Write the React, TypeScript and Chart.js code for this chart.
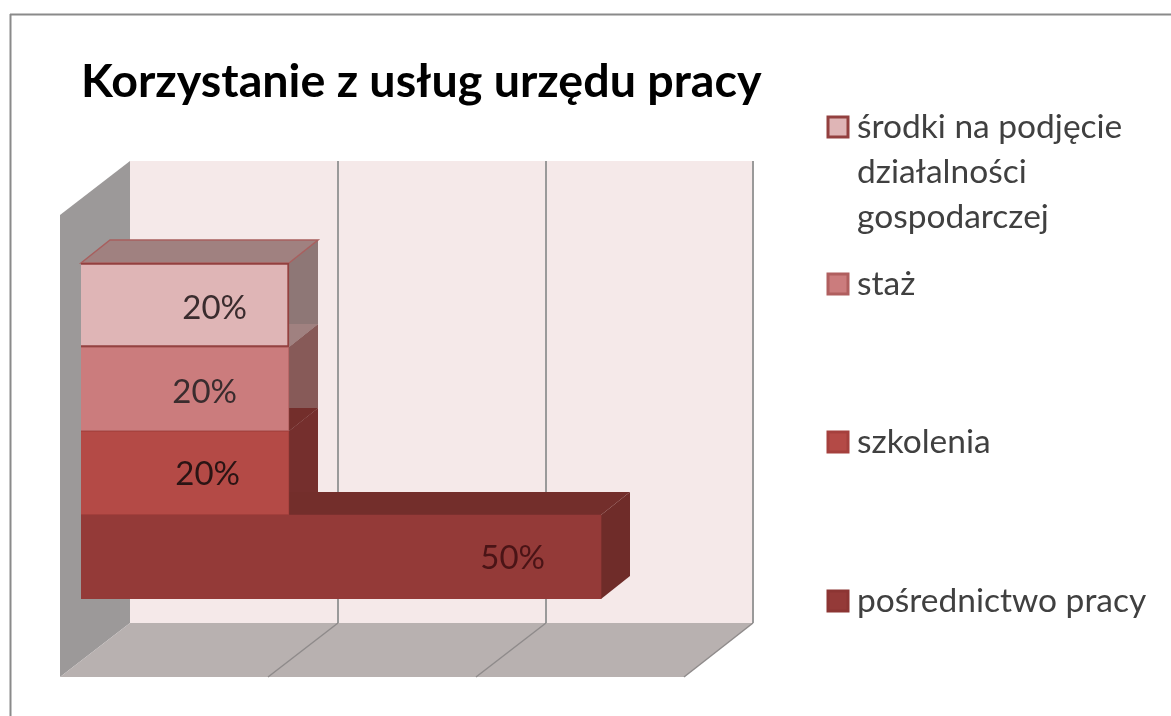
import React, { useEffect, useRef } from "react";
import { Chart, registerables } from "chart.js";

Chart.register(...registerables);

const titleText = "Korzystanie z usług urzędu pracy";
const categories: (string | string[])[] = [
  ["środki na podjęcie", "działalności", "gospodarczej"],
  "staż",
  "szkolenia",
  "pośrednictwo pracy",
];
const values = [20, 20, 20, 50];
const gridTicks = [0, 20, 40, 60];

const frontColors = ["#dfb5b6", "#cb7c7d", "#b44a46", "#943a38"];
const borderColors = ["#93403f", "#b05f5f", "#a5403d", "#8c3533"];
const sideColors = ["#8e7776", "#875a58", "#752f2d", "#6f2c29"];
const topColors = ["#a08180", "#a08180", "#732e2b", "#732e2b"];
const labelColors = ["#3a2c2e", "#3a2c2e", "#2a1414", "#4a1416"];

// Hand placement of the value labels, measured back from each bar's end / centre.
const labelRightInset = [42, 52, 49, 56];
const labelDown = [3, 3, 1, 1];
// Baselines and swatch tops of the legend blocks.
const legendTops = [116, 273, 431, 590];
const legendFirstBaseline = [138, 295, 453, 612];

const FONT = "Lato, 'Open Sans', sans-serif";
const BAR_DX = 29;
const BAR_DY = 23;
const WALL_FRONT = -21;
const WALL_BACK = 49;
const WALL_TOP = 161;
const WALL_BOTTOM = 623;
const FLOOR_FRONT = 677;
const LEFT_FRONT_TOP = 215;

function poly(ctx: CanvasRenderingContext2D, pts: number[][], fill: string, stroke?: string) {
  ctx.beginPath();
  pts.forEach((p, i) => (i ? ctx.lineTo(p[0], p[1]) : ctx.moveTo(p[0], p[1])));
  ctx.closePath();
  ctx.fillStyle = fill;
  ctx.fill();
  if (stroke) {
    ctx.strokeStyle = stroke;
    ctx.lineWidth = 1.5;
    ctx.stroke();
  }
}

function line(ctx: CanvasRenderingContext2D, a: number[], b: number[], color: string, w: number) {
  ctx.beginPath();
  ctx.moveTo(a[0], a[1]);
  ctx.lineTo(b[0], b[1]);
  ctx.strokeStyle = color;
  ctx.lineWidth = w;
  ctx.stroke();
}

const scene3d = {
  id: "scene3d",
  beforeDraw(chart: any) {
    const { ctx } = chart;
    ctx.save();
    ctx.fillStyle = "#ffffff";
    ctx.fillRect(0, 0, chart.width, chart.height);
    line(ctx, [10.5, 14], [10.5, chart.height], "#8a8a8a", 2);
    line(ctx, [10, 14.5], [chart.width, 14.5], "#8a8a8a", 2);
    ctx.restore();
  },
  beforeDatasetsDraw(chart: any) {
    const { ctx } = chart;
    const x = chart.scales.x;
    const px = gridTicks.map((t) => x.getPixelForValue(t));
    const backL = px[0] + WALL_BACK;
    const backR = px[3] + WALL_BACK - 1;
    const frontL = px[0] + WALL_FRONT;
    const frontR = px[3] + WALL_FRONT;
    ctx.save();
    poly(ctx, [[backL, WALL_TOP], [backR, WALL_TOP], [backR, WALL_BOTTOM], [backL, WALL_BOTTOM]], "#f5e9e9");
    poly(ctx, [[frontL, LEFT_FRONT_TOP], [backL, WALL_TOP], [backL, WALL_BOTTOM], [frontL, FLOOR_FRONT]], "#9c9999");
    poly(ctx, [[frontL, FLOOR_FRONT], [backL, WALL_BOTTOM], [backR, WALL_BOTTOM], [frontR, FLOOR_FRONT]], "#b8b1b0");
    gridTicks.slice(1).forEach((_, i) => {
      const bx = px[i + 1] + WALL_BACK - (i === 2 ? 1 : 0);
      const fx = px[i + 1] + WALL_FRONT;
      line(ctx, [bx, WALL_TOP], [bx, WALL_BOTTOM], "#9a9a9a", 2);
      line(ctx, [bx, WALL_BOTTOM], [fx, FLOOR_FRONT], "#8f8b8b", 1.5);
    });
    const bars = chart.getDatasetMeta(0).data;
    bars.forEach((b: any, i: number) => {
      const t = b.y - b.height / 2;
      const bt = b.y + b.height / 2;
      poly(ctx, [[b.x, t], [b.x + BAR_DX, t - BAR_DY], [b.x + BAR_DX, bt - BAR_DY], [b.x, bt]], sideColors[i]);
    });
    bars.forEach((b: any, i: number) => {
      const t = b.y - b.height / 2;
      poly(
        ctx,
        [[b.base, t], [b.base + BAR_DX, t - BAR_DY], [b.x + BAR_DX, t - BAR_DY], [b.x, t]],
        topColors[i],
        i === 0 ? "#a85f5e" : undefined,
      );
    });
    ctx.restore();
  },
  afterDatasetsDraw(chart: any) {
    const { ctx } = chart;
    const bars = chart.getDatasetMeta(0).data;
    ctx.save();
    ctx.textBaseline = "middle";
    ctx.textAlign = "right";
    ctx.font = `33px ${FONT}`;
    bars.forEach((b: any, i: number) => {
      ctx.fillStyle = labelColors[i];
      ctx.fillText(`${values[i]}%`, b.x - labelRightInset[i], b.y + labelDown[i]);
    });
    // Legend
    ctx.textAlign = "left";
    ctx.textBaseline = "alphabetic";
    ctx.font = `33.5px ${FONT}`;
    categories.forEach((c, i) => {
      ctx.fillStyle = frontColors[i];
      ctx.strokeStyle = borderColors[i];
      ctx.lineWidth = 3;
      ctx.fillRect(828, legendTops[i] + 1, 20, 20);
      ctx.strokeRect(828, legendTops[i] + 1, 20, 20);
      ctx.fillStyle = "#404040";
      const lines = Array.isArray(c) ? c : [c];
      lines.forEach((l, k) => ctx.fillText(l, 857, legendFirstBaseline[i] + k * 45));
    });
    ctx.restore();
  },
};

export default function App() {
  const ref = useRef<HTMLCanvasElement>(null);
  useEffect(() => {
    const chart = new Chart(ref.current!, {
      type: "bar",
      data: {
        labels: categories as any,
        datasets: [
          {
            data: values,
            backgroundColor: frontColors,
            borderColor: borderColors,
            borderWidth: [2, 1, 1, 0],
            barPercentage: 1,
            categoryPercentage: 1,
          },
        ],
      },
      options: {
        indexAxis: "y",
        responsive: false,
        animation: false,
        devicePixelRatio: 1,
        layout: { padding: { left: 81, right: 403.6, top: 0, bottom: 117 } },
        scales: {
          x: { display: false, min: 0, max: 66, ticks: { stepSize: 20 } },
          y: { display: false },
        },
        plugins: {
          legend: { display: false },
          tooltip: { enabled: false },
          title: {
            display: true,
            text: titleText,
            align: "start",
            color: "#000000",
            font: { family: FONT, size: 46.6, weight: "bold" },
            padding: { top: 54, bottom: 153.1 },
          },
        },
      },
      plugins: [scene3d],
    } as any);
    return () => chart.destroy();
  }, []);
  return (
    <div style={{ position: "fixed", left: 0, top: 0, width: 1171, height: 716, background: "#fff" }}>
      <canvas ref={ref} width={1171} height={716} style={{ display: "block", filter: "blur(0.7px)" }} />
    </div>
  );
}
